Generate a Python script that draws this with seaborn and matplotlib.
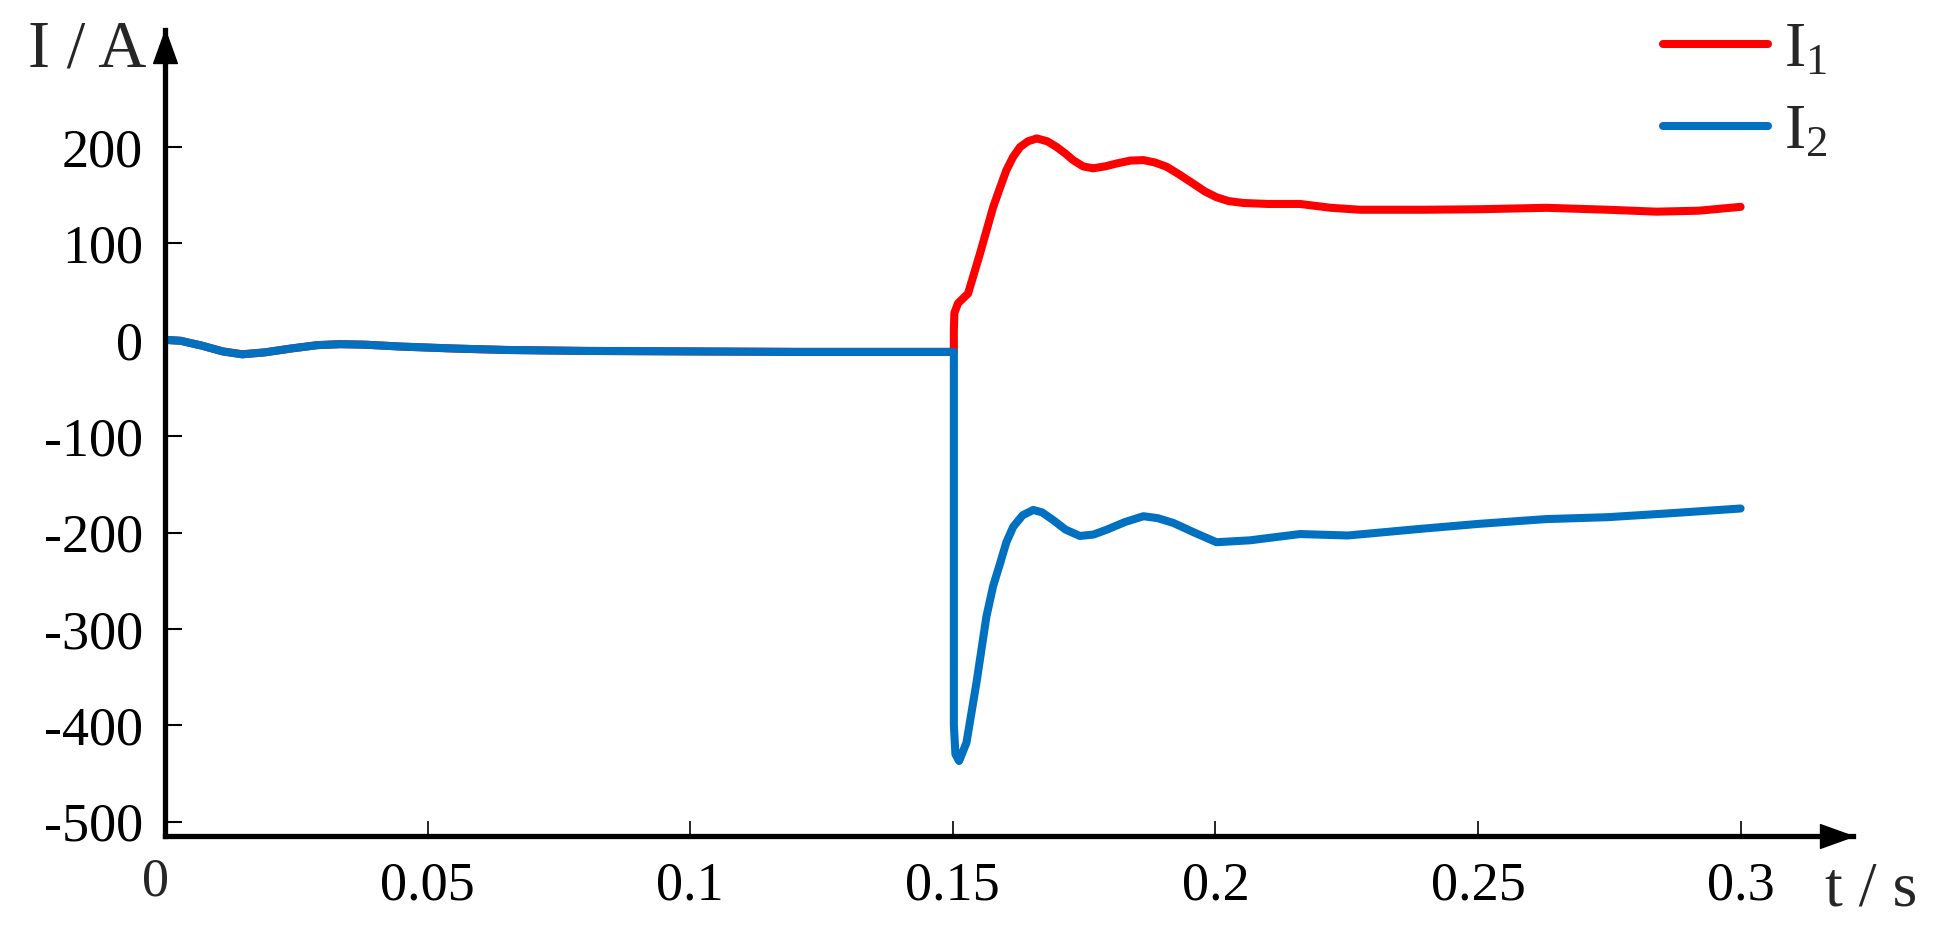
import numpy as np
import pandas as pd
import seaborn as sns
import matplotlib.pyplot as plt

# common part before the switching instant (I1 == I2)
t_pre = [0, 0.003, 0.007, 0.011, 0.0147, 0.019, 0.024, 0.029, 0.0333, 0.038,
         0.045, 0.055, 0.065, 0.08, 0.1, 0.12, 0.14, 0.1502]
i_pre = [0, -1, -6, -12, -15, -13, -9, -5.5, -4.5, -5,
         -7, -9, -10.5, -11.5, -12, -12.5, -12.5, -12.5]

# I1 after 0.15 s
t1_post = [0.1502, 0.1503, 0.151, 0.1529, 0.154, 0.1552, 0.1565, 0.1577, 0.159, 0.1602,
           0.1615, 0.1628, 0.1643, 0.166, 0.168, 0.1698, 0.1715, 0.1729, 0.1748, 0.1767,
           0.179, 0.1812, 0.1838, 0.1863, 0.1885, 0.1907, 0.193, 0.1958, 0.198, 0.2002,
           0.2025, 0.2053, 0.21, 0.2161, 0.222, 0.2275, 0.24, 0.25, 0.263, 0.2747,
           0.284, 0.292, 0.3]
i1_post = [10, 28, 38, 48, 68, 90, 115, 138, 158, 176,
           190, 200, 206, 209, 206, 200, 193, 186.5, 180, 178,
           180, 183, 186, 186.5, 184, 179.6, 172, 162, 154, 148,
           144, 142, 141, 141, 137, 135, 135, 135.5, 137, 135,
           133, 134, 138]

# I2 after 0.15 s
t2_post = [0.1502, 0.1505, 0.1512, 0.1526, 0.1545, 0.1564, 0.1577, 0.159, 0.1602, 0.1615,
           0.1633, 0.1653, 0.167, 0.1691, 0.1715, 0.1742, 0.1768, 0.1793, 0.1828, 0.1863,
           0.189, 0.192, 0.196, 0.2002, 0.2066, 0.2161, 0.2252, 0.2393, 0.25, 0.2629,
           0.2747, 0.2864, 0.3]
i2_post = [-400, -430, -437, -418, -356, -287, -255, -232, -210, -194,
           -182, -176.5, -179, -187, -197, -203.5, -202, -197, -189, -183,
           -185, -190, -200, -210, -208, -201.5, -203, -196, -191, -186,
           -184, -180, -175]

x_ticks = [0.05, 0.1, 0.15, 0.2, 0.25, 0.3]
x_labels = ['0.05', '0.1', '0.15', '0.2', '0.25', '0.3']
y_ticks = [-500, -400, -300, -200, -100, 0, 100, 200]

t1 = t_pre + t1_post
i1 = i_pre + i1_post
t2 = t_pre + t2_post
i2 = i_pre + i2_post

sns.set_style('ticks')
plt.rcParams['font.family'] = ['Liberation Serif', 'DejaVu Serif']
plt.rcParams['mathtext.fontset'] = 'custom'
plt.rcParams['mathtext.rm'] = 'Liberation Serif'
plt.rcParams['axes.unicode_minus'] = False

fig = plt.figure(figsize=(19.39, 9.31), dpi=100)
ax = fig.add_axes([165 / 1939, 1 - 835.7 / 931, (1853 - 165) / 1939, (835.7 - 30) / 931])

sns.lineplot(x=t1, y=i1, ax=ax, color='#FF0000', sort=False, estimator=None,
             label=r'$\mathregular{I_1}$', legend=False)
sns.lineplot(x=t2, y=i2, ax=ax, color='#0070C0', sort=False, estimator=None,
             label=r'$\mathregular{I_2}$', legend=False)
for ln in ax.lines:
    ln.set_linewidth(5.8)
    ln.set_solid_capstyle('round')
    ln.set_solid_joinstyle('round')

ax.set_xlim(0, 0.3214)
ax.set_ylim(-514.5, 321.5)
sns.despine(ax=ax)
for s in ['left', 'bottom']:
    ax.spines[s].set_linewidth(3.8)
    ax.spines[s].set_color('black')

ax.set_xticks(x_ticks)
ax.set_xticklabels(x_labels)
ax.set_yticks(y_ticks)
ax.tick_params(axis='x', direction='in', length=11, width=1.2, labelsize=39, pad=18, colors='black')
ax.tick_params(axis='y', direction='in', length=12, width=1.5, labelsize=39, pad=16, colors='black')
ax.set_xlabel('')
ax.set_ylabel('')

ax.legend(loc='upper left', bbox_to_anchor=(1663 / 1939, 1 - 22 / 931),
          bbox_transform=fig.transFigure, frameon=False, fontsize=46,
          handlelength=1.65, handletextpad=0.25, labelspacing=0.36,
          borderpad=0, borderaxespad=0)

# arrow heads
ax.plot(1, 0, marker=[(0, 0), (-1, 0.36), (-1, -0.36), (0, 0)], ms=47.5, color='black',
        transform=ax.transAxes, clip_on=False)
ax.plot(0, 1, marker=[(0, 0), (-0.36, -1), (0.36, -1), (0, 0)], ms=47.5, color='black',
        transform=ax.transAxes, clip_on=False)

fig.text(155 / 1939, 1 - 895 / 931, '0', fontsize=39, ha='center', va='baseline')
fig.text(28 / 1939, 1 - 66 / 931, 'I / A', fontsize=48, ha='left', va='baseline')
fig.text(1825 / 1939, 1 - 905 / 931, 't / s', fontsize=46, ha='left', va='baseline')

fig.savefig('out.png', dpi=100)
